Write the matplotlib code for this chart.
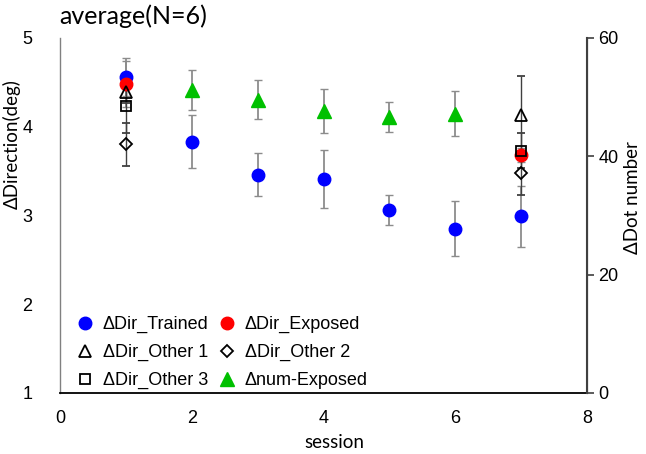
import numpy as np
import matplotlib
matplotlib.use("Agg")
import matplotlib.pyplot as plt

# data
sessions = [1, 2, 3, 4, 5, 6, 7]
trained = [4.56, 3.83, 3.46, 3.41, 3.06, 2.85, 2.99]
trained_err = [0.21, 0.30, 0.24, 0.33, 0.17, 0.31, 0.34]

pre_post = [1, 7]
exposed = [4.48, 3.68]
exposed_err = [0.26, 0.08]
other1 = [4.39, 4.13]
other1_err = [0.12, 0.44]
other2 = [3.80, 3.48]
other2_err = [0.24, 0.25]
other3 = [4.23, 3.73]
other3_err = [0.30, 0.20]

num_sessions = [2, 3, 4, 5, 6]
num_exposed = [51.2, 49.6, 47.6, 46.6, 47.2]
num_exposed_err = [3.4, 3.3, 3.7, 2.5, 3.8]

plt.rcParams['font.family'] = ['Liberation Sans', 'DejaVu Sans']
label_font = 'Lato'

fig = plt.figure(figsize=(6.46, 4.54), dpi=100)
ax = fig.add_axes([0.0929, 0.1344, 0.8158, 0.7819])
ax2 = ax.twinx()

light = '#8c8c8c'
dark = '#404040'

h1 = ax.errorbar(sessions, trained, yerr=trained_err, fmt='o', color='#0000ff',
                 ms=9, ecolor=light, elinewidth=1.3, capsize=3, label='ΔDir_Trained')
h2 = ax.errorbar(pre_post, exposed, yerr=exposed_err, fmt='o', color='#ff0000',
                 ms=9, ecolor=light, elinewidth=1.3, capsize=3, label='ΔDir_Exposed')
h3 = ax.errorbar(pre_post, other1, yerr=other1_err, fmt='^', mfc='none', mec='black',
                 mew=1.3, ms=8, ecolor=dark, elinewidth=1.0, capsize=3, label='ΔDir_Other 1')
h4 = ax.errorbar(pre_post, other2, yerr=other2_err, fmt='D', mfc='none', mec='black',
                 mew=1.3, ms=6, ecolor=dark, elinewidth=1.0, capsize=3, label='ΔDir_Other 2')
h5 = ax.errorbar(pre_post, other3, yerr=other3_err, fmt='s', mfc='none', mec='black',
                 mew=1.3, ms=7.5, ecolor=dark, elinewidth=1.0, capsize=3, label='ΔDir_Other 3')
h6 = ax2.errorbar(num_sessions, num_exposed, yerr=num_exposed_err, fmt='^', color='#00c000',
                  ms=10, ecolor=light, elinewidth=1.3, capsize=3, label='Δnum-Exposed')

ax.set_xlim(0, 8)
ax.set_ylim(1, 5)
ax2.set_ylim(0, 60)
ax.set_xticks([0, 2, 4, 6, 8])
ax.set_yticks([1, 2, 3, 4, 5])
ax2.set_yticks([0, 20, 40, 60])

ax.tick_params(axis='x', length=0, pad=12, labelsize=13)
ax.tick_params(axis='y', length=0, pad=20, labelsize=13)
ax2.tick_params(axis='y', length=5, width=1.2, color=dark, pad=3, labelsize=13)

for a in (ax, ax2):
    a.spines['top'].set_visible(False)
ax.spines['left'].set_color('#808080')
ax.spines['left'].set_linewidth(1.0)
ax.spines['bottom'].set_color('black')
ax.spines['bottom'].set_linewidth(1.3)
ax2.spines['left'].set_visible(False)
ax2.spines['bottom'].set_visible(False)
ax2.spines['right'].set_color(dark)
ax2.spines['right'].set_linewidth(1.5)

ax.set_xlabel('session', fontsize=13.5, family=label_font)
ax.xaxis.set_label_coords(0.52, -0.115)
ax.set_ylabel('ΔDirection(deg)', fontsize=13.5, family=label_font)
ax.yaxis.set_label_coords(-0.075, 0.70)
ax2.set_ylabel('ΔDot number', fontsize=13.5, family=label_font)
ax2.yaxis.set_label_coords(1.07, 0.55)
fig.text(0.091, 0.965, 'average(N=6)', fontsize=18, family=label_font, ha='left', va='center')

handles = [h1, h3, h5, h2, h4, h6]
labels = [h.get_label() for h in handles]
leg = ax2.legend([h[0] for h in handles], labels, ncol=2, frameon=False,
                 loc='lower left', bbox_to_anchor=(0.03, 0.01), borderaxespad=0,
                 borderpad=0, fontsize=13, handlelength=1.0, handletextpad=0.5,
                 columnspacing=0.5, labelspacing=0.6)

fig.savefig('out.png', dpi=100)
